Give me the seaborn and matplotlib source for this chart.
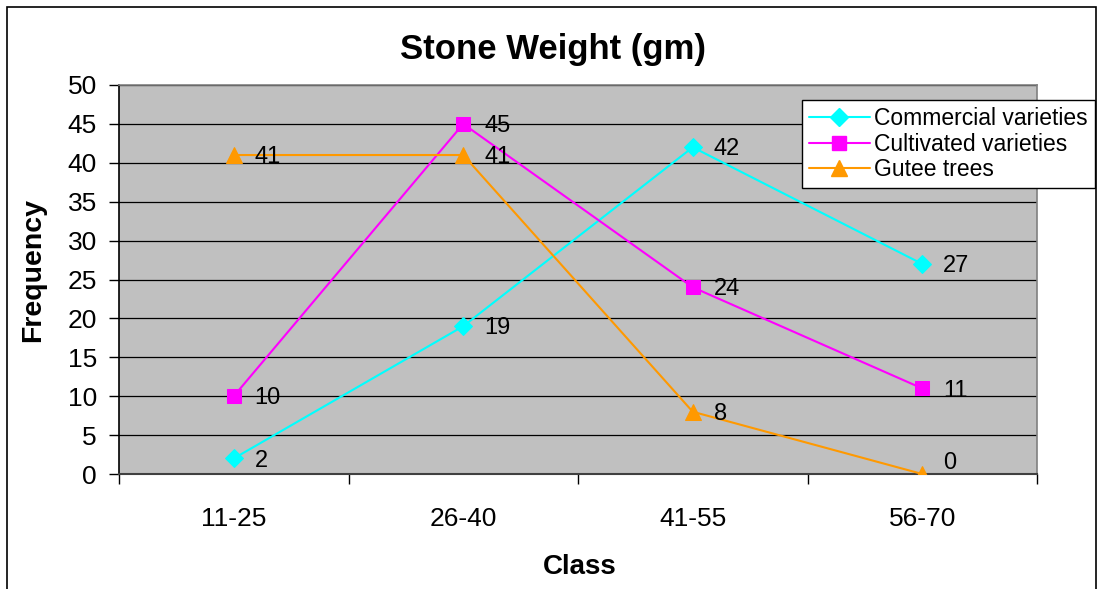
import matplotlib
matplotlib.use("Agg")
import matplotlib.pyplot as plt
from matplotlib.patches import Rectangle
import seaborn as sns
import pandas as pd

classes = ["11-25", "26-40", "41-55", "56-70"]
commercial = [2, 19, 42, 27]
cultivated = [10, 45, 24, 11]
gutee = [41, 41, 8, 0]
series_names = ["Commercial varieties", "Cultivated varieties", "Gutee trees"]
series_values = [commercial, cultivated, gutee]
colors = ["#00FFFF", "#FF00FF", "#FF9900"]
markers = ["D", "s", "^"]
msizes = [9, 9.5, 12]

sns.set_style("white")
plt.rcParams["font.family"] = ["Liberation Sans", "DejaVu Sans"]
for k in ["text.color", "axes.labelcolor", "xtick.color", "ytick.color"]:
    plt.rcParams[k] = "black"

fig = plt.figure(figsize=(10.97, 5.89), dpi=100)
L, R, T, B = 119, 1037, 85, 474
W, H = 1097, 589
ax = fig.add_axes([L / W, 1 - B / H, (R - L) / W, (B - T) / H])
ax.set_facecolor("#C0C0C0")

rows = []
for name, vals in zip(series_names, series_values):
    for i, v in enumerate(vals):
        rows.append({"pos": i, "Class": classes[i], "Frequency": v, "Series": name})
df = pd.DataFrame(rows)

ymin, ymax = 0, 50
handles = []
for name, col, mk, ms in zip(series_names, colors, markers, msizes):
    sub = df[df["Series"] == name]
    sns.lineplot(data=sub, x="pos", y="Frequency", ax=ax, color=col, marker=mk,
                 markersize=ms, markeredgecolor=col, linewidth=1.5, legend=False, zorder=3)
    for _, r in sub.iterrows():
        at_bottom = r["Frequency"] <= ymin
        ax.annotate(str(r["Frequency"]), (r["pos"], r["Frequency"]),
                    xytext=(15, 0 if at_bottom else -1.5),
                    textcoords="offset points",
                    va="bottom" if at_bottom else "center", ha="left", fontsize=17,
                    color="black", zorder=4)
    handles.append(plt.Line2D([], [], color=col, marker=mk, markersize=ms,
                              markeredgecolor=col, linewidth=1.5))

ax.set_xlim(-0.5, 3.5)
ax.set_ylim(ymin, ymax)
ax.set_yticks(range(0, 51, 5))
ax.set_xticks(range(4))
ax.set_xticklabels(classes)
ax.set_xticks([-0.5, 0.5, 1.5, 2.5, 3.5], minor=True)
ax.grid(axis="y", color="black", linewidth=0.9, zorder=1)
ax.set_axisbelow(True)
ax.tick_params(axis="y", length=7, width=1, color="black", pad=9, labelsize=19, left=True)
ax.tick_params(axis="x", which="major", length=0, pad=24, labelsize=19)
ax.tick_params(axis="x", which="minor", length=7, width=1, color="black", bottom=True)
ax.set_xlabel("")
ax.set_ylabel("")
for s in ["top", "right"]:
    ax.spines[s].set_color("#808080")
    ax.spines[s].set_linewidth(1.2)
ax.spines["left"].set_color("black")
ax.spines["left"].set_linewidth(1.2)
ax.spines["bottom"].set_color("#404040")
ax.spines["bottom"].set_linewidth(1.5)

fig.text(553 / W, 1 - 50 / H, "Stone Weight (gm)", ha="center", va="center",
         fontsize=25, fontweight="bold")
fig.text(580 / W, 1 - 567 / H, "Class", ha="center", va="center",
         fontsize=20, fontweight="bold")
fig.text(33 / W, 1 - 270 / H, "Frequency", ha="center", va="center", rotation=90,
         fontsize=20.5, fontweight="bold")

leg = fig.legend(handles, series_names, loc="upper left",
                 bbox_to_anchor=(802 / W, 1 - 100 / H), bbox_transform=fig.transFigure,
                 fontsize=16.5, frameon=True, fancybox=False, shadow=False,
                 borderaxespad=0, borderpad=0.3, labelspacing=0.12,
                 handlelength=2.66, handletextpad=0.2)
leg.get_frame().set_edgecolor("black")
leg.get_frame().set_linewidth(1)
leg.get_frame().set_facecolor("white")
leg.get_frame().set_alpha(1)

fig.patches.append(Rectangle((7 / W, -0.05), (1096 - 7) / W, 1.05 - 7 / H,
                             transform=fig.transFigure, fill=False,
                             edgecolor="black", linewidth=1.2))

fig.savefig("out.png", dpi=100)
